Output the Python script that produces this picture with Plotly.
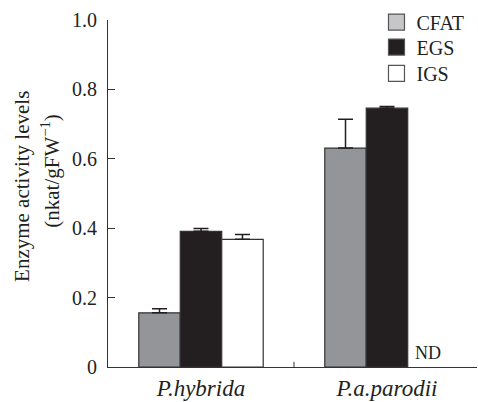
import plotly.graph_objects as go

categories = ["P.hybrida", "P.a.parodii"]
cat_labels = ["<i>P.hybrida</i>", "<i>P.a.parodii</i>"]
series_names = ["CFAT", "EGS", "IGS"]
cfat = [0.156, 0.631]
cfat_err = [0.012, 0.083]
egs = [0.391, 0.746]
egs_err = [0.008, 0.005]
igs = [0.368, None]
igs_err = [0.014, None]
y_ticks = [0, 0.2, 0.4, 0.6, 0.8, 1.0]
y_tick_labels = ["0", "0.2", "0.4", "0.6", "0.8", "1.0"]

FONT = "Liberation Serif"
DARK = "#231f20"
bar_fills = ["#939598", "#231f20", "#ffffff"]
legend_fills = ["#c6c6c8", "#231f20", "#ffffff"]
legend_ids = ["legend", "legend2", "legend3"]
legend_y = [0.994, 0.922, 0.846]

xpos = [0, 1]
fig = go.Figure()
for name, vals, errs, fill in zip(series_names, [cfat, egs, igs], [cfat_err, egs_err, igs_err], bar_fills):
    fig.add_trace(go.Bar(
        x=xpos, y=vals, name=name, showlegend=False,
        marker=dict(color=fill, line=dict(color="#333333", width=1.2)),
        error_y=dict(type="data", symmetric=False, array=errs,
                     arrayminus=[0 for _ in errs], color=DARK, thickness=1.5, width=7.5),
    ))

for name, fill, lid in zip(series_names, legend_fills, legend_ids):
    fig.add_trace(go.Scatter(
        x=[None], y=[None], mode="markers", name=name, legend=lid,
        marker=dict(symbol="square", size=16, color=fill, line=dict(color="#555555", width=1.2)),
    ))

# ND label for the missing IGS value in P.a.parodii
bargap = 0.331
bar_w = (1 - bargap) / 3
nd_x = 1 + bar_w
fig.add_annotation(x=nd_x, y=0.04, xref="x", yref="y", text="ND", showarrow=False,
                   font=dict(family=FONT, size=18, color=DARK), xanchor="center", yanchor="middle")

# y-axis title (two lines)
fig.add_annotation(x=-0.233, y=0.519, xref="paper", yref="paper", text="Enzyme activity levels",
                   textangle=-90, showarrow=False, xanchor="center", yanchor="middle",
                   font=dict(family=FONT, size=21, color=DARK))
fig.add_annotation(x=-0.155, y=0.565, xref="paper", yref="paper", text="(nkat/gFW<sup>−1</sup>)",
                   textangle=-90, showarrow=False, xanchor="center", yanchor="middle",
                   font=dict(family=FONT, size=21, color=DARK))

leg_common = dict(x=0.7276, xanchor="left", yanchor="middle",
                  font=dict(family=FONT, size=20, color=DARK), bgcolor="rgba(0,0,0,0)",
                  itemsizing="trace")
legends = {lid: dict(leg_common, y=ly) for lid, ly in zip(legend_ids, legend_y)}

fig.update_layout(
    width=478, height=402,
    margin=dict(l=108, r=1, t=20, b=35),
    plot_bgcolor="white", paper_bgcolor="white",
    barmode="group", bargap=bargap, bargroupgap=0,
    font=dict(family=FONT, color=DARK),
    xaxis=dict(range=[-0.5, 1.484], tickmode="array", tickvals=xpos, ticktext=cat_labels,
               showline=True, linecolor="#333333", linewidth=1, showgrid=False, zeroline=False,
               ticks="", tickfont=dict(family=FONT, size=23, color=DARK)),
    yaxis=dict(range=[0, 1.0], tickmode="array", tickvals=y_ticks, ticktext=y_tick_labels,
               showline=True, linecolor="#333333", linewidth=1, showgrid=False, zeroline=False,
               ticks="inside", ticklen=7, tickcolor="#333333",
               tickfont=dict(family=FONT, size=20, color=DARK), ticklabelstandoff=6),
    **legends,
)
# boundary tick between the two groups
fig.add_shape(type="line", xref="x", yref="paper", x0=0.5, x1=0.5, y0=0, y1=0.015,
              line=dict(color="#333333", width=1))

fig.write_html("out.html")
